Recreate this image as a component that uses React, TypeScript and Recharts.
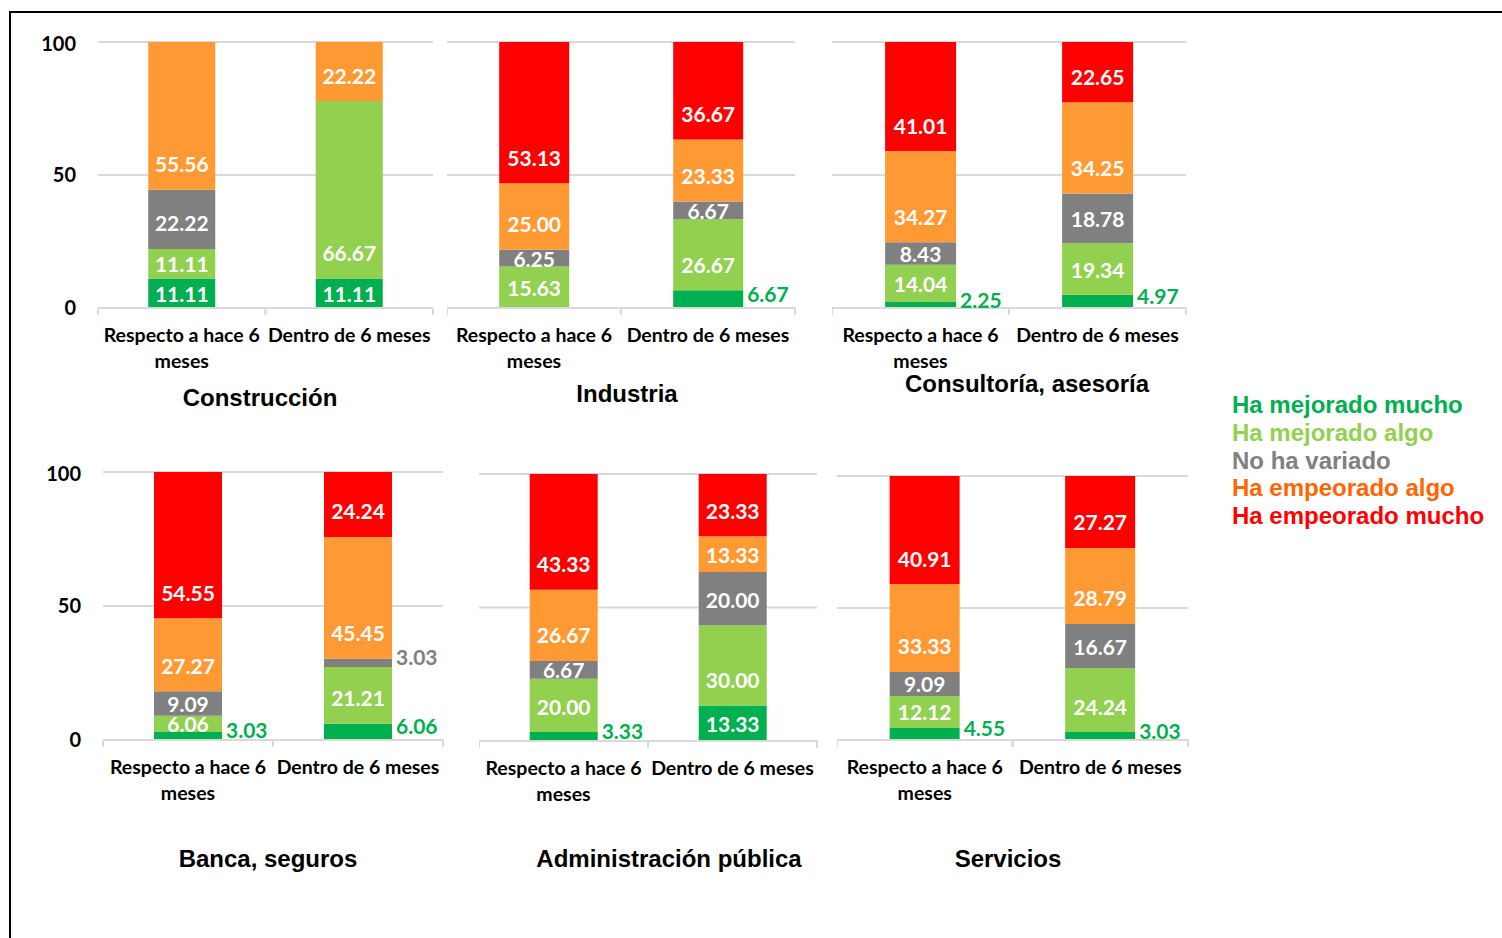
import React from 'react';
import { BarChart, Bar, XAxis, YAxis, CartesianGrid, LabelList } from 'recharts';

const categories = ['Respecto a hace 6 meses', 'Dentro de 6 meses'];
const sectors = ['Construcción', 'Industria', 'Consultoría, asesoría', 'Banca, seguros', 'Administración pública', 'Servicios'];
const seriesNames = ['Ha mejorado mucho', 'Ha mejorado algo', 'No ha variado', 'Ha empeorado algo', 'Ha empeorado mucho'];

// one pair per sector: [respecto a hace 6 meses, dentro de 6 meses]
const mejoradoMucho = [[11.11, 11.11], [0, 6.67], [2.25, 4.97], [3.03, 6.06], [3.33, 13.33], [4.55, 3.03]];
const mejoradoAlgo = [[11.11, 66.67], [15.63, 26.67], [14.04, 19.34], [6.06, 21.21], [20.0, 30.0], [12.12, 24.24]];
const noVariado = [[22.22, 0], [6.25, 6.67], [8.43, 18.78], [9.09, 3.03], [6.67, 20.0], [9.09, 16.67]];
const empeoradoAlgo = [[55.56, 22.22], [25.0, 23.33], [34.27, 34.25], [27.27, 45.45], [26.67, 13.33], [33.33, 28.79]];
const empeoradoMucho = [[0, 0], [53.13, 36.67], [41.01, 22.65], [54.55, 24.24], [43.33, 23.33], [40.91, 27.27]];

const yTicks = [0, 50, 100];

const KEYS = ['mm', 'ma', 'nv', 'ea', 'em'];
const COLORS = ['#00B050', '#92D050', '#808080', '#FF9933', '#FF0000'];
const LEGEND_COLORS = ['#00B050', '#92D050', '#808080', '#FF6600', '#FF0000'];

const LABEL_FONT = 'Lato, "Open Sans", sans-serif';
const TITLE_FONT = '"Liberation Sans", Arial, sans-serif';

// plot box of each panel in page pixels
const layout = [
  { pl: 98, pr: 433, pt: 42, pb: 308, tx: 260, ty: 398, axis: true },
  { pl: 447, pr: 795, pt: 42, pb: 308, tx: 627, ty: 394, axis: false },
  { pl: 832, pr: 1186, pt: 42, pb: 308, tx: 1027, ty: 384, axis: false },
  { pl: 103, pr: 443, pt: 472, pb: 740, tx: 268, ty: 859, axis: true },
  { pl: 479, pr: 817, pt: 474, pb: 741, tx: 669, ty: 859, axis: false },
  { pl: 837, pr: 1188, pt: 476, pb: 740, tx: 1008, ty: 859, axis: false },
];

const rowsFor = (i: number) =>
  categories.map((c, j) => ({
    category: c,
    mm: mejoradoMucho[i][j],
    ma: mejoradoAlgo[i][j],
    nv: noVariado[i][j],
    ea: empeoradoAlgo[i][j],
    em: empeoradoMucho[i][j],
  }));

const splitLabel = (s: string) => {
  if (s.length <= 17) return [s];
  const cut = s.lastIndexOf(' ', 17);
  return [s.slice(0, cut), s.slice(cut + 1)];
};

const CategoryTick = (props: any) => {
  const { x, y, payload, band } = props;
  const lines = splitLabel(String(payload.value));
  return (
    <g>
      <line x1={x - band / 2} x2={x - band / 2} y1={y} y2={y + 7} stroke="#D9D9D9" strokeWidth={2} />
      <line x1={x + band / 2} x2={x + band / 2} y1={y} y2={y + 7} stroke="#D9D9D9" strokeWidth={2} />
      <text x={x} y={y + 34} textAnchor="middle" fill="#000" fontFamily={LABEL_FONT} fontWeight={700} fontSize={19.5}>
        {lines.map((l, i) => (
          <tspan key={i} x={x} dy={i === 0 ? 0 : 26}>
            {l}
          </tspan>
        ))}
      </text>
    </g>
  );
};

// labels sit near the base of each segment (centered when the segment is short)
const makeLabel = (color: string, limit: number) => (props: any) => {
  const x = Number(props.x);
  const y = Number(props.y);
  const w = Number(props.width);
  const h = Number(props.height);
  const v = Number(props.value);
  if (!v) return null;
  const outside = v < limit;
  const bottom = y + h;
  return (
    <text
      x={outside ? x + w + 4 : x + w / 2}
      y={outside ? bottom - h / 2 - 6 : bottom - Math.min(h / 2, 26)}
      textAnchor={outside ? 'start' : 'middle'}
      dominantBaseline="central"
      fill={outside ? color : '#FFFFFF'}
      fontFamily={LABEL_FONT}
      fontWeight={700}
      fontSize={21}
    >
      {v.toFixed(2)}
    </text>
  );
};

const SectorChart = ({ index }: { index: number }) => {
  const g = layout[index];
  const yw = g.axis ? 60 : 0;
  const top = 10;
  const band = (g.pr - g.pl) / categories.length;
  const width = yw + (g.pr - g.pl) + 2;
  const height = top + (g.pb - g.pt) + 70;
  return (
    <>
      <div style={{ position: 'absolute', left: g.pl - yw, top: g.pt - top }}>
        <BarChart
          width={width}
          height={height}
          data={rowsFor(index)}
          margin={{ top, right: 2, bottom: 0, left: 0 }}
          barCategoryGap="30%"
        >
          <CartesianGrid vertical={false} stroke="#D9D9D9" strokeWidth={2} />
          <XAxis
            dataKey="category"
            axisLine={{ stroke: '#D9D9D9', strokeWidth: 2 }}
            tickLine={false}
            tickSize={0}
            tickMargin={0}
            height={70}
            interval={0}
            tick={(p: any) => <CategoryTick {...p} band={band} />}
          />
          <YAxis
            hide={!g.axis}
            width={yw}
            domain={[0, 100]}
            allowDataOverflow
            ticks={yTicks}
            axisLine={false}
            tickLine={false}
            tickMargin={16}
            tick={{ fill: '#000', fontFamily: LABEL_FONT, fontWeight: 700, fontSize: 20 }}
          />
          {KEYS.map((k, s) => (
            <Bar key={k} dataKey={k} name={seriesNames[s]} stackId="a" fill={COLORS[s]} isAnimationActive={false}>
              <LabelList dataKey={k} content={makeLabel(COLORS[s], s === 0 ? 10 : 5)} />
            </Bar>
          ))}
        </BarChart>
      </div>
      <div
        style={{
          position: 'absolute',
          left: g.tx - 200,
          top: g.ty - 14,
          width: 400,
          textAlign: 'center',
          lineHeight: '28px',
          fontFamily: TITLE_FONT,
          fontWeight: 700,
          fontSize: 24,
          color: '#000',
        }}
      >
        {sectors[index]}
      </div>
    </>
  );
};

export default function App() {
  return (
    <div style={{ position: 'absolute', left: 0, top: 0, width: 1502, height: 938, overflow: 'hidden', background: '#fff' }}>
      <div
        style={{
          position: 'absolute',
          left: 9,
          top: 11,
          width: 1493,
          height: 927,
          borderTop: '2px solid #000',
          borderLeft: '2px solid #000',
          boxSizing: 'border-box',
        }}
      />
      {sectors.map((_, i) => (
        <SectorChart key={i} index={i} />
      ))}
      <div style={{ position: 'absolute', left: 1232, top: 391, fontFamily: TITLE_FONT, fontWeight: 700, fontSize: 24, lineHeight: '27.75px' }}>
        {seriesNames.map((n, i) => (
          <div key={n} style={{ color: LEGEND_COLORS[i], whiteSpace: 'nowrap' }}>
            {n}
          </div>
        ))}
      </div>
    </div>
  );
}
